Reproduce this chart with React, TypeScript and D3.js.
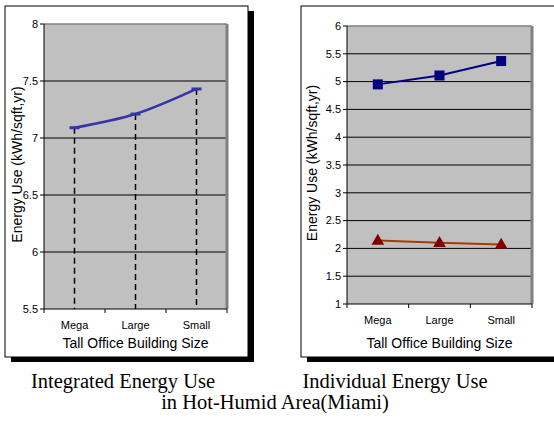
import React from 'react';
import * as d3 from 'd3';

const categories = ['Mega', 'Large', 'Small'];
const integratedValues = [7.09, 7.21, 7.43];
const integratedTicks = [5.5, 6, 6.5, 7, 7.5, 8];
const individualA = [4.95, 5.11, 5.37];
const individualB = [2.14, 2.1, 2.07];
const individualTicks = [1, 1.5, 2, 2.5, 3, 3.5, 4, 4.5, 5, 5.5, 6];

const sans = '"Liberation Sans", Arial, sans-serif';
const serif = '"Liberation Serif", "Times New Roman", serif';

const Frame: React.FC<{ x: number; y: number; w: number; h: number }> = ({ x, y, w, h }) => (
  <g>
    <rect x={x + 6} y={y + 5} width={w} height={h} fill="#000" />
    <rect x={x} y={y} width={w} height={h} fill="#fff" stroke="#000" strokeWidth={1} />
  </g>
);

const Axes: React.FC<{
  x: d3.ScaleBand<string>;
  y: d3.ScaleLinear<number, number>;
  ticks: number[];
  labelX: number;
  titleY: number;
}> = ({ x, y, ticks, labelX, titleY }) => {
  const [x0, x1] = x.range();
  const [y0, y1] = y.range();
  const bounds = categories.map(c => x(c)!).concat([x1]);
  return (
    <g fontFamily={sans} fill="#000">
      <rect x={x0} y={y1} width={x1 - x0} height={y0 - y1} fill="#c0c0c0" />
      {ticks.slice(1, -1).map(t => (
        <line key={t} x1={x0} x2={x1} y1={y(t)} y2={y(t)} stroke="#000" strokeWidth={1} />
      ))}
      <line x1={x0} x2={x1} y1={y1} y2={y1} stroke="#808080" strokeWidth={1.5} />
      <line x1={x1} x2={x1} y1={y1} y2={y0} stroke="#808080" strokeWidth={3} />
      <line x1={x0} x2={x0} y1={y1} y2={y0} stroke="#000" strokeWidth={1} />
      <line x1={x0} x2={x1} y1={y0} y2={y0} stroke="#000" strokeWidth={1} />
      {ticks.map(t => (
        <g key={t}>
          <line x1={x0 - 4} x2={x0} y1={y(t)} y2={y(t)} stroke="#000" />
          <text x={x0 - 6} y={y(t)} dy="0.35em" textAnchor="end" fontSize={11}>{t}</text>
        </g>
      ))}
      {bounds.map((b, i) => (
        <line key={i} x1={b} x2={b} y1={y0} y2={y0 + 4} stroke="#000" />
      ))}
      {categories.map(c => (
        <text key={c} x={x(c)! + x.bandwidth() / 2} y={y0 + 20} textAnchor="middle" fontSize={11}>{c}</text>
      ))}
      <text x={(x0 + x1) / 2} y={titleY} textAnchor="middle" fontSize={14}>Tall Office Building Size</text>
      <text transform={`translate(${labelX},${(y0 + y1) / 2 - 2}) rotate(-90)`} textAnchor="middle" fontSize={14}>
        Energy Use (kWh/sqft,yr)
      </text>
    </g>
  );
};

const App: React.FC = () => {
  const width = 554;
  const height = 421;

  // left chart
  const xL = d3.scaleBand<string>().domain(categories).range([44, 227]);
  const yL = d3.scaleLinear().domain([5.5, 8]).range([309, 24]);
  const cxL = (c: string) => xL(c)! + xL.bandwidth() / 2;
  const lineL = d3.line<number>()
    .x((_, i) => cxL(categories[i]))
    .y(d => yL(d))
    .curve(d3.curveCatmullRom);

  // right chart
  const xR = d3.scaleBand<string>().domain(categories).range([347, 532]);
  const yR = d3.scaleLinear().domain([1, 6]).range([304, 26]);
  const cxR = (c: string) => xR(c)! + xR.bandwidth() / 2;
  const lineR = d3.line<number>()
    .x((_, i) => cxR(categories[i]))
    .y(d => yR(d));
  const tri = d3.symbol().type(d3.symbolTriangle).size(70)();

  return (
    <svg width={width} height={height} style={{ position: 'absolute', left: 0, top: 0 }}>
      <rect width={width} height={height} fill="#fff" />
      <Frame x={5} y={6} w={243} h={351} />
      <Frame x={301} y={6} w={260} h={351} />

      <Axes x={xL} y={yL} ticks={integratedTicks} labelX={22} titleY={348} />
      {integratedValues.map((v, i) => (
        <line key={i} x1={cxL(categories[i])} x2={cxL(categories[i])} y1={yL(v)} y2={yL(5.5)}
          stroke="#000" strokeWidth={1.5} strokeDasharray="6,4" />
      ))}
      <path d={lineL(integratedValues)!} fill="none" stroke="#3333aa" strokeWidth={2.5} />
      {integratedValues.map((v, i) => (
        <rect key={i} x={cxL(categories[i]) - 5} y={yL(v) - 1.5} width={10} height={3} fill="#3333aa" />
      ))}

      <Axes x={xR} y={yR} ticks={individualTicks} labelX={317} titleY={348} />
      <path d={lineR(individualA)!} fill="none" stroke="#000080" strokeWidth={2} />
      {individualA.map((v, i) => (
        <rect key={i} x={cxR(categories[i]) - 5} y={yR(v) - 5} width={10} height={10} fill="#000080" />
      ))}
      <path d={lineR(individualB)!} fill="none" stroke="#a63c00" strokeWidth={2} />
      {individualB.map((v, i) => (
        <path key={i} d={tri!} transform={`translate(${cxR(categories[i])},${yR(v) + 0.5})`} fill="#800000" />
      ))}

      <g fontFamily={serif} fontSize={20.5} fill="#000">
        <text x={123} y={388} textAnchor="middle">Integrated Energy Use</text>
        <text x={395} y={388} textAnchor="middle">Individual Energy Use</text>
        <text x={275} y={409} textAnchor="middle">in Hot-Humid Area(Miami)</text>
      </g>
    </svg>
  );
};

export default App;
